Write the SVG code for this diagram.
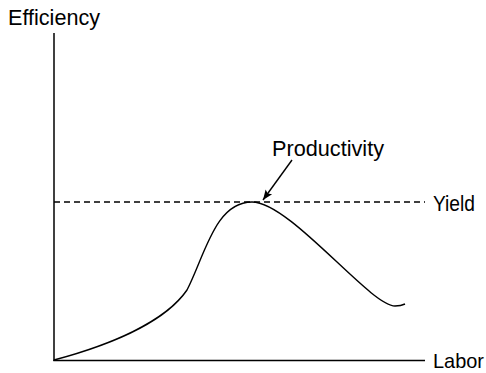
<svg xmlns="http://www.w3.org/2000/svg" width="486" height="373" viewBox="0 0 486 373">
<style>
.t{font-family:"Liberation Sans",Arial,sans-serif;font-size:22px;fill:#000}
.ax{stroke:#000;stroke-width:1.5;fill:none}
.ln{stroke:#000;stroke-width:1.4;fill:none}
</style>
<defs>
<marker id="ah" viewBox="0 0 10 10" refX="10" refY="5" markerWidth="13" markerHeight="10" markerUnits="userSpaceOnUse" orient="auto">
<path d="M0,1 L10,5 L0,9 L2,5 Z" fill="#000"/>
</marker>
</defs>
<g id="axes">
<line class="ax" x1="54" y1="33" x2="54" y2="361"/>
<line class="ax" x1="53.3" y1="360.5" x2="425" y2="360.5"/>
</g>
<g id="yield-line">
<line class="ln" x1="54" y1="202" x2="425" y2="202" stroke-dasharray="6,4"/>
</g>
<g id="curve">
<path class="ln" d="M54,360 C110,345 165,322 187,290 C205,255 215,202 252,202 C290,202 370,306 395,306 C400,306 403,305 405,304"/>
</g>
<g id="connectors">
<line class="ln" x1="292" y1="160" x2="263" y2="200" marker-end="url(#ah)"/>
</g>
<g id="labels">
<text class="t" x="8" y="25" textLength="92" lengthAdjust="spacingAndGlyphs">Efficiency</text>
<text class="t" x="272" y="156" textLength="112" lengthAdjust="spacingAndGlyphs">Productivity</text>
<text class="t" x="433" y="211" textLength="42" lengthAdjust="spacingAndGlyphs">Yield</text>
<text class="t" x="433" y="367.5" style="font-size:21px" textLength="51" lengthAdjust="spacingAndGlyphs">Labor</text>
</g>
</svg>
